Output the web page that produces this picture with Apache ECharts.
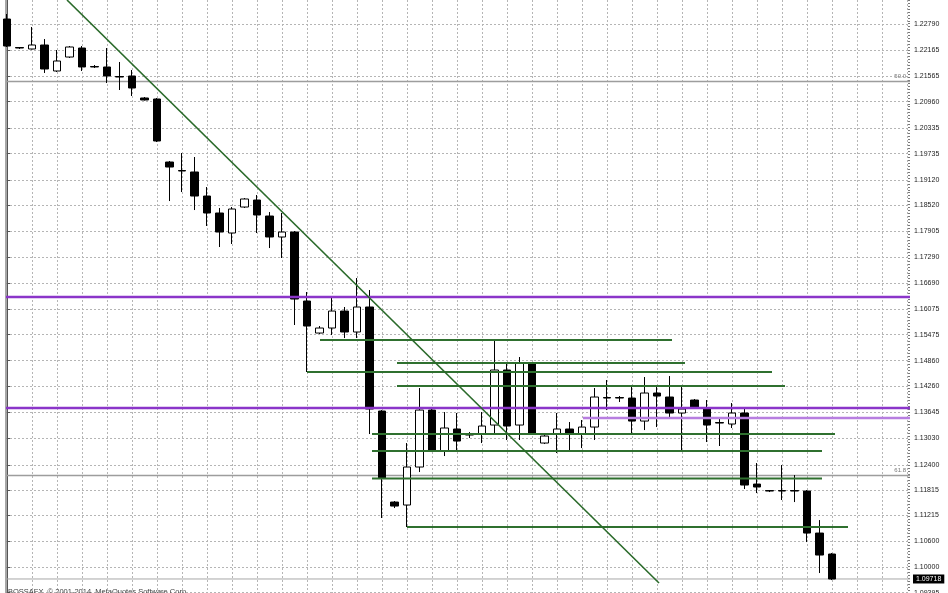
<!DOCTYPE html>
<html><head><meta charset="utf-8">
<script src="https://cdn.jsdelivr.net/npm/echarts@6/dist/echarts.min.js"></script>
<style>html,body{margin:0;padding:0;background:#fff}#c{width:948px;height:593px}</style>
</head><body><div id="c"></div>
<script>
// ---- data ----
const candleOpen = [1.22907,1.22236,1.22201,1.22295,1.21683,1.22012,1.22224,1.21789,1.21777,1.21553,
1.21565,1.21047,1.21023,1.19539,1.19339,1.19304,1.18738,1.18338,1.17867,1.18479,
1.18644,1.18267,1.17773,1.17890,1.16265,1.15511,1.15629,1.16029,1.15535,1.16124,
1.13674,1.11530,1.11460,1.12355,1.13697,1.12732,1.13250,1.13120,1.13132,1.13344,
1.14640,1.13344,1.14805,1.12920,1.13132,1.13250,1.13132,1.13297,1.13992,1.13992,
1.13980,1.13438,1.14098,1.14004,1.13627,1.13933,1.13745,1.13403,1.13368,1.13627,
1.11954,1.11801,1.11801,1.11801,1.11790,1.10800,1.10306];
const candleClose = [1.22271,1.22224,1.22295,1.21730,1.21918,1.22248,1.21777,1.21777,1.21565,1.21541,
1.21282,1.21000,1.20034,1.19421,1.19327,1.18738,1.18338,1.17890,1.18432,1.18668,
1.18291,1.17773,1.17890,1.16312,1.15676,1.15629,1.16029,1.15535,1.16124,1.13721,
1.12096,1.11436,1.12355,1.13697,1.12732,1.13274,1.12967,1.13109,1.13321,1.14640,
1.13321,1.14805,1.13156,1.13085,1.13250,1.13156,1.13297,1.14004,1.13980,1.13980,
1.13438,1.14098,1.14027,1.13627,1.13721,1.13768,1.13344,1.13391,1.13627,1.11931,
1.11884,1.11790,1.11790,1.11790,1.10800,1.10282,1.09718];
const candleLow = [1.22248,1.22201,1.22189,1.21636,1.21659,1.21989,1.21683,1.21753,1.21400,1.21235,
1.21094,1.20988,1.20010,1.18620,1.18832,1.18408,1.18032,1.17537,1.17608,1.18456,
1.17867,1.17513,1.17278,1.15700,1.14593,1.15488,1.15464,1.15393,1.15393,1.13132,
1.11154,1.11389,1.10942,1.12237,1.12708,1.12614,1.12755,1.13038,1.12920,1.13156,
1.12991,1.12991,1.13132,1.12897,1.12685,1.12755,1.12802,1.12991,1.13697,1.13886,
1.13156,1.13226,1.13297,1.13533,1.12755,1.13745,1.12944,1.12850,1.13274,1.11837,
1.11742,1.11766,1.11578,1.11530,1.10588,1.09858,1.09693];
const candleHigh = [1.23025,1.22248,1.22719,1.22436,1.22177,1.22271,1.22271,1.21824,1.22224,1.21895,
1.21706,1.21070,1.21047,1.19563,1.19751,1.19657,1.18950,1.18456,1.18479,1.18691,
1.18762,1.18361,1.18338,1.17914,1.16477,1.15676,1.16359,1.16124,1.16807,1.16524,
1.13697,1.11554,1.12920,1.14216,1.13768,1.13650,1.13627,1.13179,1.13650,1.15346,
1.14828,1.14946,1.14828,1.13109,1.13627,1.13415,1.13462,1.14216,1.14404,1.14027,
1.14263,1.14475,1.14239,1.14498,1.14286,1.13957,1.13933,1.13533,1.13862,1.13721,
1.12449,1.11813,1.12402,1.12166,1.11813,1.11106,1.10329];

// price-axis tick labels
const priceTicks = [1.22790,1.22165,1.21565,1.20960,1.20335,1.19735,1.19120,1.18520,1.17905,1.17290,
1.16690,1.16075,1.15475,1.14860,1.14260,1.13645,1.13030,1.12400,1.11815,1.11215,1.10600,1.10000,1.09395];

// green horizontal segments: [start bar, end bar, price]
const greenLevels = [
  [25.04, 53.2, 1.15346],
  [31.2, 54.24, 1.14805],
  [24.0, 61.2, 1.14593],
  [31.2, 62.24, 1.14263],
  [29.2, 66.24, 1.13132],
  [29.2, 65.2, 1.12732],
  [29.2, 65.2, 1.12085],
  [32.0, 67.28, 1.10942]
];
// purple levels: [start bar, end bar, price]
const purpleLevels = [
  [-0.08, 72.24, 1.16359],
  [-0.08, 72.24, 1.13745]
];
const purpleLight = [[46.08, 72.24, 1.13509]];
// diagonal trend line: [bar, price]
const trendLine = [[4.8, 1.23355], [52.16, 1.09623]];
// gray fibo levels: [price, label]
const fiboLevels = [[1.21436, '50.0'], [1.12155, '61.8']];
const lastPrice = 1.09718;
const copyright = 'BOSSAFX, \u00a9 2001-2014, MetaQuotes Software Corp.';

// ---- chart ----
const yMin = 1.09388, yMax = 1.23355;
const xMin = -0.08, xMax = 72.24;
const gridX = [];
for (let i = 0; i <= 72; i += 2) gridX.push(i);

const dotted = { color: '#b5b5b5', type: [2, 2], width: 1 };

const series = [{
  type: 'candlestick',
  dimensions: ['idx', 'open', 'close', 'lowest', 'highest'],
  encode: { x: 'idx', y: ['open', 'close', 'lowest', 'highest'] },
  data: candleOpen.map((o, i) => [i, o, candleClose[i], candleLow[i], candleHigh[i]]),
  barWidth: 8,
  itemStyle: { color: '#ffffff', color0: '#000000', borderColor: '#000000', borderColor0: '#000000', borderWidth: 1 },
  z: 3
}];

function addSeg(seg, color, width, z, endLabel) {
  const s = {
    type: 'line', silent: true, symbol: 'none', z: z,
    data: [[seg[0], seg[2]], [seg[1], seg[2]]],
    lineStyle: { color: color, width: width }
  };
  if (endLabel) s.endLabel = endLabel;
  series.push(s);
}
fiboLevels.forEach(f => addSeg([xMin, xMax, f[0]], '#9d9d9d', 1.5, 2, {
  show: true, formatter: f[1], fontSize: 6, color: '#777', align: 'right', offset: [-4, -5], distance: 0,
  fontFamily: 'Liberation Sans'
}));
addSeg([xMin, xMax, lastPrice], '#a8a8a8', 1, 2, {
  show: true, formatter: lastPrice.toFixed(5), fontSize: 7, color: '#fff', backgroundColor: '#000',
  padding: [1, 3, 1, 3], distance: 3, fontFamily: 'Liberation Sans'
});
greenLevels.forEach(s => addSeg(s, '#2f702f', 2, 4));
purpleLevels.forEach(s => addSeg(s, '#8b35c9', 2.5, 5));
purpleLight.forEach(s => addSeg(s, '#b77ee0', 2.5, 5));
series.push({
  type: 'line', silent: true, symbol: 'none', z: 6,
  data: trendLine, lineStyle: { color: '#2a6a2a', width: 1.6 }
});

const option = {
  animation: false,
  backgroundColor: '#ffffff',
  title: {
    text: copyright, left: 3, top: 583,
    textStyle: { fontSize: 7.5, fontWeight: 'normal', color: '#444', fontFamily: 'Liberation Sans' }
  },
  grid: { left: 6, right: 38, top: 0, bottom: 0, containLabel: false, outerBoundsMode: 'none' },
  xAxis: {
    type: 'value', min: xMin, max: xMax,
    axisLine: { show: false },
    axisTick: { show: false, customValues: gridX },
    axisLabel: { show: false, customValues: gridX },
    splitLine: { show: true, lineStyle: dotted }
  },
  yAxis: [{
    type: 'value', position: 'right', min: yMin, max: yMax, scale: true,
    axisLine: { show: true, lineStyle: { color: '#555', width: 1 } },
    axisTick: { show: true, customValues: priceTicks, length: 3, lineStyle: { color: '#555' } },
    axisLabel: { show: true, customValues: priceTicks, formatter: v => v.toFixed(5),
      fontSize: 7, color: '#222', margin: 4, fontFamily: 'Liberation Sans' },
    splitLine: { show: true, lineStyle: dotted }
  }, {
    type: 'value', position: 'left', min: yMin, max: yMax, scale: true,
    axisLine: { show: true, lineStyle: { color: '#8a8a8a', width: 1.5 } },
    axisTick: { show: false }, axisLabel: { show: false }, splitLine: { show: false }
  }, {
    type: 'value', position: 'right', min: 1.0934, max: 1.2334, interval: 0.0007, scale: true,
    axisLine: { show: false },
    axisTick: { show: true, inside: true, length: 2, lineStyle: { color: '#777' } },
    axisLabel: { show: false }, splitLine: { show: false }
  }],
  series: series
};
const chart = echarts.init(document.getElementById('c'), null, { renderer: 'canvas' });
chart.setOption(option);
</script></body></html>
